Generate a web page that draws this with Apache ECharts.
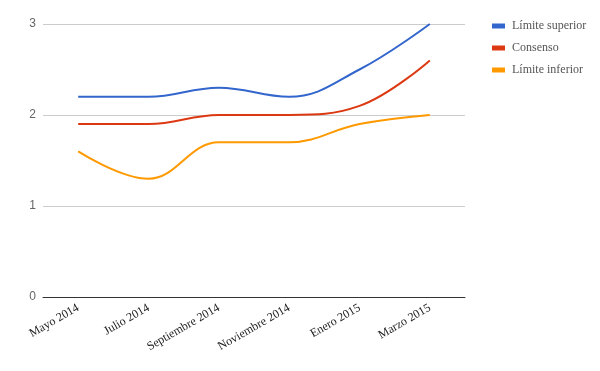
<!DOCTYPE html>
<html><head><meta charset="utf-8">
<script src="https://cdn.jsdelivr.net/npm/echarts@6/dist/echarts.min.js"></script>
<style>html,body{margin:0;padding:0;background:#fff}#c{width:600px;height:371px}</style>
</head><body><div id="c"></div>
<script>
const categories = ["Mayo 2014","Julio 2014","Septiembre 2014","Noviembre 2014","Enero 2015","Marzo 2015"];
const limiteSuperior = [2.2, 2.2, 2.3, 2.2, 2.5, 3.0];
const consenso = [1.9, 1.9, 2.0, 2.0, 2.1, 2.6];
const limiteInferior = [1.6, 1.3, 1.7, 1.7, 1.9, 2.0];
const seriesNames = ["Límite superior","Consenso","Límite inferior"];
const colors = ["#3366cc","#dc3912","#ff9900"];
const font = "Liberation Serif";
const chart = echarts.init(document.getElementById('c'));
function mk(name, data, color){
  return {name, type:'line', data, smooth:0.4, symbol:'none', lineStyle:{width:2,color}, itemStyle:{color}};
}
chart.setOption({
  animation:false,
  grid:{left:43,right:135,top:24,bottom:74},
  legend:{orient:'vertical',left:487,top:15,itemWidth:13,itemHeight:5,itemGap:10,icon:'rect',
    textStyle:{fontFamily:font,fontSize:12,color:'#555',padding:[0,0,0,2]},data:seriesNames},
  xAxis:{type:'category',data:categories,boundaryGap:true,
    axisLine:{lineStyle:{color:'#333',width:1}},axisTick:{show:false},
    axisLabel:{rotate:30,interval:0,margin:10,fontFamily:font,fontSize:12,color:'#222'}},
  yAxis:{type:'value',min:0,max:3,interval:1,
    axisLine:{show:false},axisTick:{show:false},
    splitLine:{lineStyle:{color:'#ccc'}},
    axisLabel:{margin:7,fontFamily:'Liberation Sans',fontSize:12,color:'#666'}},
  series:[mk(seriesNames[0],limiteSuperior,colors[0]),mk(seriesNames[1],consenso,colors[1]),mk(seriesNames[2],limiteInferior,colors[2])]
});
</script></body></html>
